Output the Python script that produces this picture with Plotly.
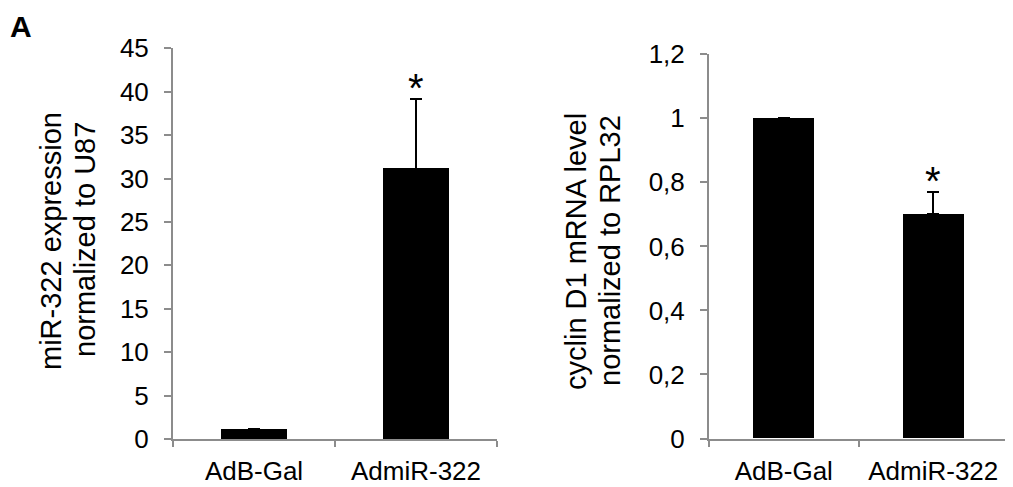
import plotly.graph_objects as go

categories = ["AdB-Gal", "AdmiR-322"]
mir_values = [1.07, 31.15]
mir_errors = [0.05, 8.05]
cyc_values = [1.0, 0.70]
cyc_errors = [0.0, 0.071]
left_ticks = [0, 5, 10, 15, 20, 25, 30, 35, 40, 45]
right_tickvals = [0, 0.2, 0.4, 0.6, 0.8, 1.0, 1.2]
right_ticktext = ["0", "0,2", "0,4", "0,6", "0,8", "1", "1,2"]
mir_star_y = 41.3
cyc_star_y = 0.823

FONT = "Liberation Sans, Arial, sans-serif"
AX = "#8c8c8c"
FS = 26
TFS = 29

# page has an 8px body margin; work in page pixels and convert
OFF = 8
W, H = 1013 - OFF, 487 - OFF


def PX(x):
    return (x - OFF) / W


def PY(y):
    return (H - (y - OFF)) / H


fig = go.Figure()
fig.add_trace(go.Bar(x=categories, y=mir_values, width=0.41, marker=dict(color="black", line=dict(width=0)),
                     error_y=dict(type="data", array=mir_errors, symmetric=False, arrayminus=[0, 0],
                                  color="black", thickness=2, width=6),
                     xaxis="x", yaxis="y", showlegend=False))
fig.add_trace(go.Bar(x=categories, y=cyc_values, width=0.41, marker=dict(color="black", line=dict(width=0)),
                     error_y=dict(type="data", array=cyc_errors, symmetric=False, arrayminus=[0, 0],
                                  color="black", thickness=2, width=6),
                     xaxis="x2", yaxis="y2", showlegend=False))

common_x = dict(type="category", range=[-0.5, 1.5], showline=True, linecolor=AX, linewidth=2,
                ticks="outside", ticklen=6, tickcolor=AX, tickwidth=2, tickson="boundaries",
                tickfont=dict(size=FS, color="black", family=FONT), showgrid=False, zeroline=False,
                ticklabelstandoff=8, automargin=False)
common_y = dict(showline=True, linecolor=AX, linewidth=2, ticks="outside", ticklen=7, tickcolor=AX,
                tickwidth=2, tickfont=dict(size=FS, color="black", family=FONT), showgrid=False,
                zeroline=False, ticklabelstandoff=10, automargin=False)

fig.update_layout(
    width=W, height=H, margin=dict(l=0, r=0, t=0, b=0, autoexpand=False),
    paper_bgcolor="white", plot_bgcolor="white", bargap=0,
    font=dict(family=FONT, color="black", size=FS),
    xaxis=dict(domain=[PX(173), PX(497)], anchor="y", **common_x),
    yaxis=dict(domain=[PY(439), PY(48.3)], anchor="x", range=[0, 45], tickvals=left_ticks, **common_y),
    xaxis2=dict(domain=[PX(709), PX(1008)], anchor="y2", **common_x),
    yaxis2=dict(domain=[PY(438.5), PY(54.3)], anchor="x2", range=[0, 1.2], tickvals=right_tickvals,
                ticktext=right_ticktext, **common_y),
)


def title_line(text, xpx, ypx):
    return dict(text=text, textangle=-90, x=PX(xpx), y=PY(ypx), xref="paper", yref="paper",
                xanchor="center", yanchor="middle", showarrow=False,
                font=dict(size=TFS, family=FONT, color="black"))


anns = [
    dict(text="<b>A</b>", x=0, y=1, xref="paper", yref="paper", xanchor="left", yanchor="top",
         showarrow=False, font=dict(size=30, family=FONT, color="black")),
    title_line("miR-322 expression", 51, 241),
    title_line("normalized to U87", 85, 240),
    title_line("cyclin D1 mRNA level", 576, 252),
    title_line("normalized to RPL32", 610, 251),
    dict(text="*", x=categories[1], y=mir_star_y, xref="x", yref="y",
         xanchor="center", yanchor="middle", showarrow=False, yshift=-8,
         font=dict(size=40, family=FONT, color="black")),
    dict(text="*", x=categories[1], y=cyc_star_y, xref="x2", yref="y2",
         xanchor="center", yanchor="middle", showarrow=False, yshift=-6,
         font=dict(size=40, family=FONT, color="black")),
]
fig.update_layout(annotations=anns)

fig.write_html("out.html")
